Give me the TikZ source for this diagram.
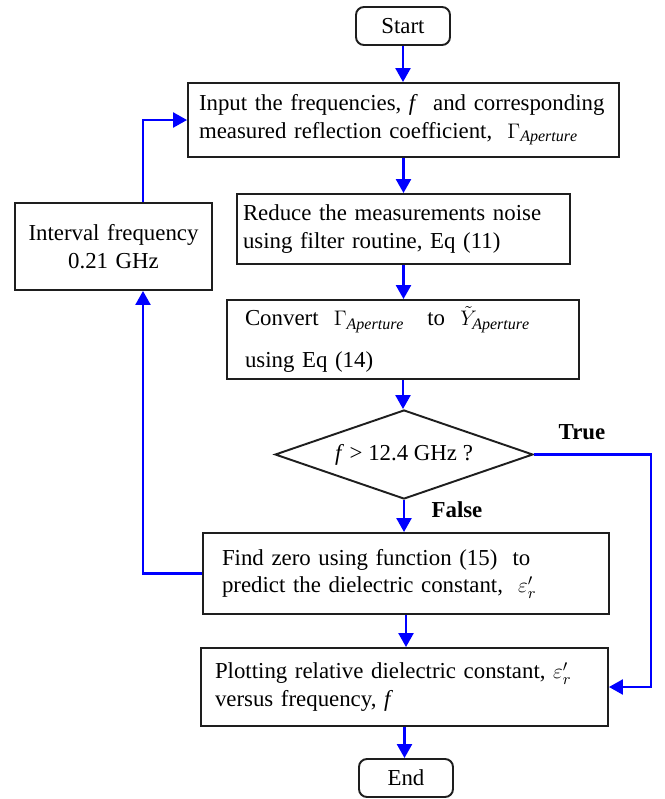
\documentclass[tikz,border=0pt]{standalone}
\usepackage{fontspec}
\setmainfont{Liberation Serif}
\usetikzlibrary{arrows.meta,calc,shapes.geometric}
\definecolor{FlowClr}{RGB}{0,0,255}
\definecolor{LineClr}{RGB}{30,30,30}

\begin{document}
\begin{tikzpicture}[
  font=\fontsize{13}{15.8}\selectfont,
  box/.style={draw=LineClr,line width=1.1pt,rectangle,align=left,inner ysep=2pt},
  term/.style={draw=LineClr,line width=1.1pt,rounded corners=0.16cm,minimum width=1.88cm,minimum height=0.76cm,inner sep=0pt},
  test/.style={draw=LineClr,line width=1.1pt,diamond,aspect=2.9,minimum width=5.16cm,minimum height=1.78cm,inner sep=0pt},
  flow/.style={draw=FlowClr,line width=1.4pt,-{Triangle[width=0.3cm,length=0.28cm]}},
  lbl/.style={font=\fontsize{13}{15}\selectfont\bfseries}]
\useasboundingbox (0,0) rectangle (13.3,-15.98);

% Main column of steps.
\node[term] (start) at (8.06,-0.52) {Start};
\node[box,text width=8.18cm,inner xsep=0.22cm,minimum height=1.48cm] (input) at (8.07,-2.40)
  {Input the frequencies, \textit{f} \ and corresponding\\
   measured reflection coefficient, \ $\Gamma_{\mathit{Aperture}}$};
\node[box,text width=6.42cm,inner xsep=0.12cm,minimum height=1.40cm] (reduce) at (8.07,-4.58)
  {Reduce the measurements noise\\ using filter routine, Eq (11)};
\node[box,text width=6.32cm,inner xsep=0.36cm,minimum height=1.58cm] (convert) at (8.06,-6.79)
  {Convert \ $\Gamma_{\mathit{Aperture}}$ \ \ to \ $\tilde{Y}_{\mathit{Aperture}}$\\[8pt] using Eq (14)};
\node[test] (dec) at (8.08,-9.09) {\textit{f} > 12.4 GHz ?};
\node[box,text width=7.36cm,inner xsep=0.38cm,minimum height=1.62cm] (find) at (8.12,-11.47)
  {Find zero using function (15) \ to\\ predict the dielectric constant, \ $\varepsilon'_r$};
\node[box,text width=7.58cm,inner xsep=0.28cm,minimum height=1.56cm] (plot) at (8.09,-13.74)
  {Plotting relative dielectric constant, $\varepsilon'_r$\\ versus frequency, \textit{f}};
\node[term] (end) at (8.12,-15.56) {End};

% Side box of the loop.
\node[box,align=center,text width=3.74cm,inner xsep=0.1cm,minimum height=1.74cm] (interval) at (2.27,-4.93)
  {Interval frequency\\ 0.21 GHz};

\coordinate (lp) at (2.86,0);
\coordinate (rp) at (13.02,0);

% Arrows down the column.
\draw[flow] (start) -- (start |- input.north);
\draw[flow] (input) -- (input |- reduce.north);
\draw[flow] (reduce) -- (reduce |- convert.north);
\draw[flow] (convert) -- (convert |- dec.north);
\draw[flow] (dec) -- (dec |- find.north);
\draw[flow] (find) -- (find |- plot.north);
\draw[flow] (plot) -- (plot |- end.north);

% Loop back and exit.
\draw[flow] (find.west) -| (lp |- interval.south);
\draw[flow] (lp |- interval.north) |- (input.west);
\draw[flow] (dec.east) -| (rp |- plot.east) -- (plot.east);

\node[lbl] (truelbl) at (11.64,-8.64) {True};
\node[lbl] (falselbl) at (9.14,-10.2) {False};
\end{tikzpicture}
\end{document}
